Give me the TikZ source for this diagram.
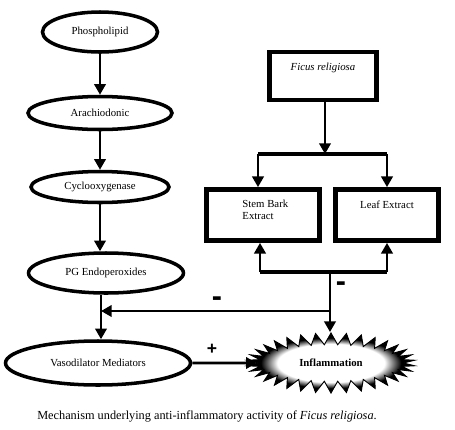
\documentclass[tikz,border=0pt]{standalone}
\usepackage{fontspec}
\setmainfont{Liberation Serif}
\newfontfamily\signfont{Liberation Sans}
\usepackage{tikz}
\usetikzlibrary{shapes.geometric, shapes.symbols, arrows.meta}
\pgfdeclareradialshading{burstfade}{\pgfpoint{0bp}{0bp}}{color(0bp)=(white); color(16bp)=(white); color(21bp)=(black); color(50bp)=(black)}

\begin{document}
\begin{tikzpicture}[
    x=0.3mm, y=-0.3mm,
    pathway/.style={ellipse, draw, line width=3pt, inner sep=0pt, font=\fontsize{9.2}{11}\selectfont},
    extract/.style={rectangle, draw, line width=4pt, inner sep=2pt, align=left, font=\fontsize{9.2}{11}\selectfont},
    arrow/.style={-{Triangle[length=3.2mm, width=3.4mm]}, line width=2.3pt},
    bar/.style={line width=2.8pt},
    sign/.style={inner sep=0pt, font=\signfont\bfseries}
]
\useasboundingbox (0,0) rectangle (455,429);

% Arachidonic acid pathway
\node[pathway, minimum width=34.5mm, minimum height=12mm] (phospho) at (100,32) {Phospholipid};
\node[pathway, minimum width=43.2mm, minimum height=9.9mm] (arachi) at (100,113) {Arachiodonic};
\node[pathway, minimum width=41.4mm, minimum height=9.3mm] (cyclo) at (100,187) {Cyclooxygenase};
\node[pathway, minimum width=46.5mm, minimum height=12mm] (pgendo) at (106,273) {PG Endoperoxides};
\node[pathway, minimum width=55.5mm, minimum height=13.2mm] (vaso) at (98,363) {Vasodilator Mediators};

% Plant and extracts
\node[extract, minimum width=32.1mm, minimum height=14.4mm, text depth=16pt] (ficus) at (323,76) {\textit{Ficus religiosa}};
\node[extract, minimum width=33.9mm, minimum height=15.3mm, text depth=9pt] (stembark) at (263,215) {\hspace{4pt}Stem Bark\\ \hspace{4pt}Extract};
\node[extract, minimum width=30.9mm, minimum height=15.3mm, text depth=17pt] (leaf) at (387,215) {Leaf Extract};

% Inflammation burst
\node[starburst, starburst points=34, starburst point height=3.5mm, random starburst=0, draw, line width=0.8pt, shade, shading=burstfade, minimum width=50.4mm, minimum height=18mm, font=\fontsize{9.2}{11}\selectfont\bfseries] (inflam) at (331,363) {Inflammation};

% Junction points
\coordinate (topjoin) at (325,154);
\coordinate (topleft) at (258,154);
\coordinate (topright) at (387,154);
\coordinate (botleft) at (260,272);
\coordinate (botright) at (387,272);
\coordinate (botjoin) at (330,272);
\coordinate (midjoin) at (330,311);
\coordinate (pathjoin) at (101,311);

% Connections
\draw[arrow] (phospho) -- (arachi);
\draw[arrow] (arachi) -- (cyclo);
\draw[arrow] (cyclo.south) -- (pgendo.north -| cyclo);
\draw[arrow] (pgendo.south -| pathjoin) -- (vaso.north -| pathjoin);
\draw[arrow] (ficus.south -| topjoin) -- (topjoin);
\draw[bar] (topleft) -- (topright);
\draw[arrow] (topleft) -- (stembark.north -| topleft);
\draw[arrow] (topright) -- (leaf.north -| topright);
\draw[bar] (botleft) -- (botright);
\draw[arrow] (botleft) -- (stembark.south -| botleft);
\draw[arrow] (botright) -- (leaf.south -| botright);
\draw[arrow] (botjoin) -- (inflam.north -| botjoin);
\draw[arrow] (midjoin) -- (pathjoin);
\draw[arrow] (vaso) -- (inflam);

% Signs
\node[sign, font=\fontsize{26}{26}\signfont\bfseries] (minusleft) at (217,302) {-};
\node[sign, font=\fontsize{26}{26}\signfont\bfseries] (minusright) at (341,287) {-};
\node[sign, font=\fontsize{15}{15}\signfont\bfseries] (plus) at (212,349) {+};

% Caption
\node[font=\fontsize{10.5}{12}\selectfont] (caption) at (207,416) {Mechanism underlying anti-inflammatory activity of \textit{Ficus religiosa}.};
\end{tikzpicture}
\end{document}
